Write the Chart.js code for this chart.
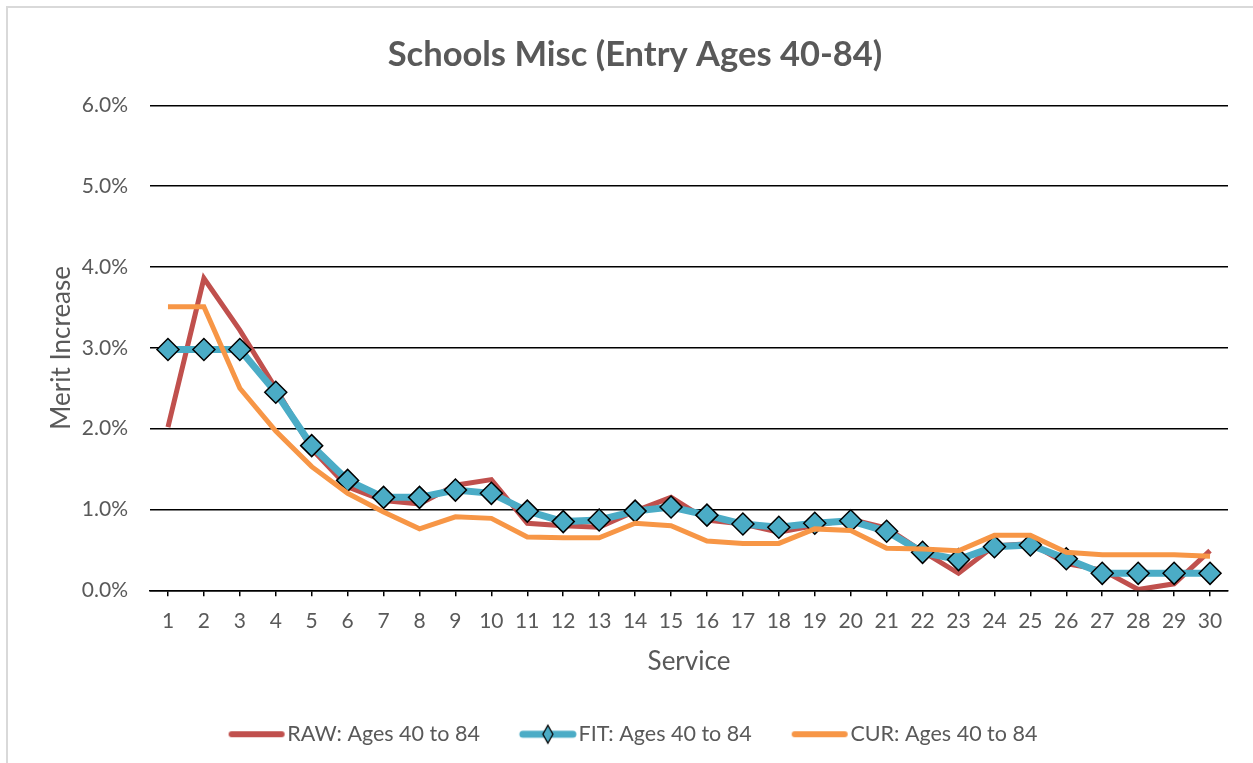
<!DOCTYPE html>
<html>
<head>
<meta charset="utf-8">
<script src="https://cdn.jsdelivr.net/npm/chart.js@4"></script>
<style>
  html, body { margin: 0; padding: 0; background: #fff; }
  #wrap { position: relative; width: 1253px; height: 763px; }
  #frame { position: absolute; left: 6px; top: 6px; right: -10px; bottom: -10px;
           border-left: 2px solid #d9d9d9; border-top: 2px solid #d9d9d9; pointer-events: none; }
</style>
</head>
<body>
<div id="wrap">
  <canvas id="chart" width="1253" height="763"></canvas>
  <div id="frame"></div>
</div>
<script>
// data (percent)
const services = [1,2,3,4,5,6,7,8,9,10,11,12,13,14,15,16,17,18,19,20,21,22,23,24,25,26,27,28,29,30];
const rawValues = [2.02,3.86,3.22,2.50,1.75,1.28,1.11,1.07,1.30,1.37,0.83,0.80,0.78,0.98,1.15,0.87,0.82,0.72,0.80,0.88,0.77,0.48,0.21,0.55,0.58,0.33,0.25,0.01,0.08,0.49];
const fitValues = [2.98,2.98,2.98,2.45,1.79,1.36,1.15,1.15,1.24,1.20,0.98,0.85,0.87,0.98,1.03,0.93,0.82,0.78,0.83,0.86,0.73,0.47,0.38,0.54,0.56,0.39,0.21,0.21,0.21,0.21];
const curValues = [3.51,3.51,2.50,1.97,1.53,1.20,0.97,0.76,0.91,0.89,0.66,0.65,0.65,0.83,0.80,0.61,0.58,0.58,0.76,0.74,0.52,0.51,0.49,0.68,0.68,0.47,0.44,0.44,0.44,0.42];
const yTicks = [0,1,2,3,4,5,6];

const RED = "#C0504D";
const BLUE = "#4BACC6";
const ORANGE = "#F79646";
const TEXT = "#595959";
const FONT = "Lato, 'Open Sans', sans-serif";

// legend swatches: line (with diamond for FIT), drawn right-shifted so it sits close to the text
const swatch = (color, lw, diamond) => {
  const c = document.createElement("canvas");
  c.width = 80; c.height = 22;
  const g = c.getContext("2d");
  g.strokeStyle = color; g.lineWidth = lw; g.lineCap = "round";
  g.beginPath(); g.moveTo(17, 11); g.lineTo(67, 11); g.stroke();
  if (diamond) {
    g.fillStyle = BLUE; g.strokeStyle = "#000"; g.lineWidth = 1.3;
    g.beginPath(); g.moveTo(42, 2); g.lineTo(47, 11); g.lineTo(42, 20); g.lineTo(37, 11); g.closePath();
    g.fill(); g.stroke();
  }
  return c;
};

new Chart(document.getElementById("chart"), {
  type: "line",
  data: {
    labels: services,
    datasets: [
      { label: "RAW: Ages 40 to 84", data: rawValues, borderColor: RED, backgroundColor: RED,
        borderWidth: 5, pointRadius: 0, order: 3, pointStyle: swatch(RED, 6, false) },
      { label: "FIT: Ages 40 to 84", data: fitValues, borderColor: BLUE, backgroundColor: BLUE,
        borderWidth: 7, pointStyle: "rectRot", pointRadius: 11, pointBackgroundColor: BLUE,
        pointBorderColor: "#000", pointBorderWidth: 1.5, order: 2 },
      { label: "CUR: Ages 40 to 84", data: curValues, borderColor: ORANGE, backgroundColor: ORANGE,
        borderWidth: 5, pointRadius: 0, order: 1, pointStyle: swatch(ORANGE, 6, false) }
    ]
  },
  options: {
    responsive: false,
    animation: false,
    layout: { padding: { left: 42, right: 25, top: 0, bottom: 8 } },
    plugins: {
      title: {
        display: true, text: "Schools Misc (Entry Ages 40-84)", color: TEXT,
        font: { family: FONT, size: 34.5, weight: "bold" }, padding: { top: 34, bottom: 30 }
      },
      legend: {
        position: "bottom",
        labels: {
          color: TEXT, font: { family: FONT, size: 21.5 }, usePointStyle: true,
          pointStyleWidth: 44, padding: 44,
          generateLabels: (chart) => chart.data.datasets.map((ds, i) => ({
            text: ds.label, datasetIndex: i, fontColor: TEXT, lineWidth: 0,
            pointStyle: i === 1 ? swatch(BLUE, 7, true) : ds.pointStyle
          }))
        }
      },
      tooltip: { enabled: false }
    },
    scales: {
      x: {
        offset: true,
        grid: { offset: false, drawOnChartArea: false, drawTicks: true, tickLength: 6, color: "#000", lineWidth: 1.5 },
        border: { display: true, color: "#000", width: 1.5 },
        ticks: { color: TEXT, font: { family: FONT, size: 21, lineHeight: 1 }, padding: 14, maxRotation: 0, autoSkip: false },
        title: { display: true, text: "Service", color: TEXT, font: { family: FONT, size: 26 }, padding: { top: 1, bottom: 2 } }
      },
      y: {
        min: 0, max: 6,
        afterBuildTicks: (scale) => { scale.ticks = yTicks.map(v => ({ value: v })); },
        afterFit: (scale) => { scale.width = 108; },
        grid: { color: "#000", lineWidth: 1.5, drawTicks: false },
        border: { display: false },
        ticks: { color: TEXT, font: { family: FONT, size: 21 }, padding: 22,
                 callback: (v) => v.toFixed(1) + "%" },
        title: { display: true, text: "Merit Increase", color: TEXT, font: { family: FONT, size: 26 }, padding: { top: 4, bottom: 0 } }
      }
    }
  }
});
</script>
</body>
</html>
